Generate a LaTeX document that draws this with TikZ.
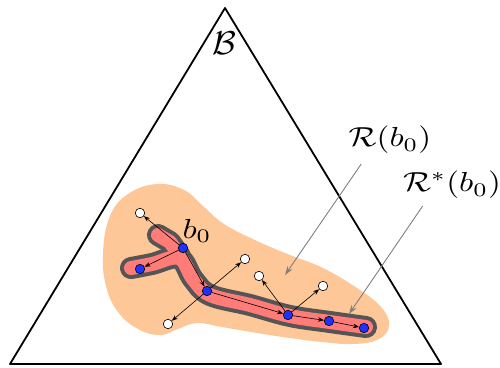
\documentclass[tikz,border=0pt]{standalone}
\usetikzlibrary{arrows.meta}
\definecolor{peach}{RGB}{253,199,152}
\definecolor{salmon}{RGB}{255,124,120}
\definecolor{rim}{RGB}{85,85,85}
\definecolor{dotblue}{RGB}{30,50,255}
\tikzset{
  bnode/.style={circle,draw=black,fill=dotblue,line width=0.6pt,inner sep=0pt,minimum size=9.5pt},
  wnode/.style={circle,draw=black,fill=white,line width=0.6pt,inner sep=0pt,minimum size=9.5pt},
  move/.style={line width=0.6pt,-{Stealth[length=6pt,width=4.5pt]}},
  pointer/.style={draw=gray,line width=0.9pt,-{Stealth[length=9pt,width=6pt]}},
  lbl/.style={inner sep=0pt,xscale=3.3,yscale=2.75}
}
\begin{document}
\begin{tikzpicture}[x=1pt,y=-1pt,line cap=round,line join=round]
\path[use as bounding box] (0,0) rectangle (500,367);
% belief simplex
\draw[line width=1.8pt] (10,364) -- (441,364) -- (225,8) -- cycle;
\node[lbl,xscale=1.05,yscale=1.2] (simplex) at (224,43) {$\mathcal{B}$};
% reachable set
\fill[peach] plot[smooth cycle,tension=0.7] coordinates {
  (103,252) (110,216) (128,194) (157,184) (184,190) (203,206) (224,224)
  (257,241) (290,255) (323,268) (357,288) (381,307) (389,325) (379,339)
  (354,344) (322,342) (290,338) (257,333) (222,327) (197,323) (178,329)
  (160,335) (138,329) (118,312) (106,286)};
% optimal reachable set
\draw[rim,line width=22pt] plot[smooth,tension=0.6] coordinates {
  (131,268) (152,264) (179,258) (193,279) (210,295) (250,305) (290,316) (330,322) (366,327)};
\draw[rim,line width=22pt] (180,256) -- (170,242) -- (158,235);
\draw[salmon,line width=14pt] plot[smooth,tension=0.6] coordinates {
  (131,268) (152,264) (179,258) (193,279) (210,295) (250,305) (290,316) (330,322) (366,327)};
\draw[salmon,line width=14pt] (180,256) -- (170,242) -- (158,235);
% belief nodes
\node[bnode] (b0) at (183,248) {};
\node[bnode] (bl) at (140,269) {};
\node[bnode] (bm) at (207,291) {};
\node[bnode] (br1) at (288,315) {};
\node[bnode] (br2) at (329,321) {};
\node[bnode] (br3) at (364,328) {};
\node[wnode] (wa) at (140,213) {};
\node[wnode] (wb) at (245,259) {};
\node[wnode] (wc) at (168,324) {};
\node[wnode] (wd) at (259,276) {};
\node[wnode] (we) at (323,286) {};
\node[lbl] (b0lbl) at (197,231) {$b_0$};
% transitions
\draw[move] (b0) -- (wa);
\draw[move] (b0) -- (bl);
\draw[move] (b0) -- (bm);
\draw[move] (bm) -- (wb);
\draw[move] (bm) -- (wc);
\draw[move] (bm) -- (br1);
\draw[move] (br1) -- (wd);
\draw[move] (br1) -- (we);
\draw[move] (br1) -- (br2);
\draw[move] (br2) -- (br3);
% set labels
\node[lbl] (rset) at (390,140) {$\mathcal{R}(b_0)$};
\node[lbl] (rstar) at (452,185) {$\mathcal{R}^*(b_0)$};
\coordinate (rtip) at (285,275);
\coordinate (rstip) at (349,314);
\draw[pointer] (rset.south west) ++(13,10) -- (rtip);
\draw[pointer] (rstar.south west) ++(20,7) -- (rstip);
\end{tikzpicture}
\end{document}
